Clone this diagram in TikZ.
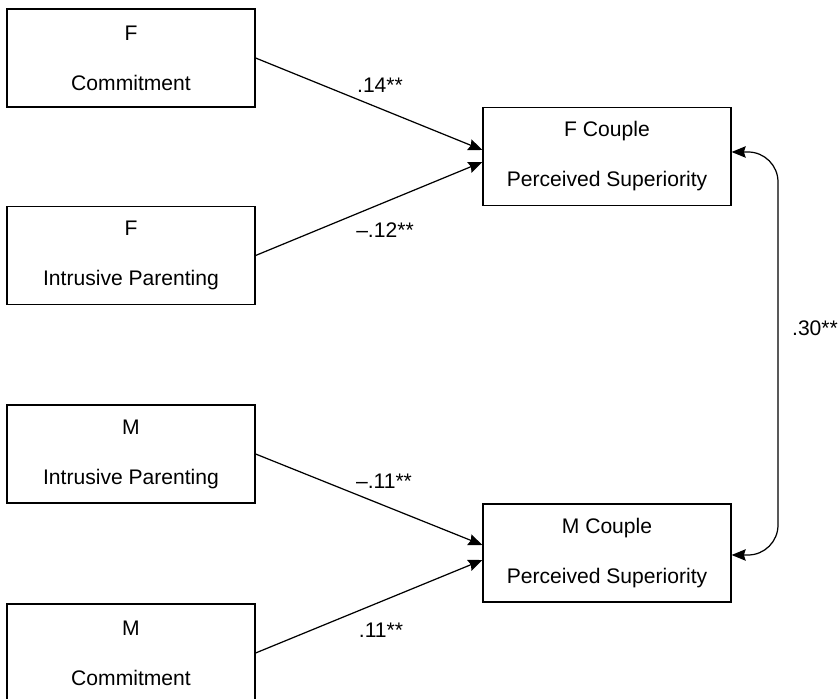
\documentclass[tikz,border=0pt]{standalone}
\usepackage{fontspec}
\setmainfont{Liberation Sans}
\usetikzlibrary{arrows.meta}

\begin{document}
\begin{tikzpicture}[
    var/.style={rectangle, draw, line width=0.7pt, minimum width=4.96cm, minimum height=1.96cm,
        align=center, font=\fontsize{12}{28.5}\selectfont},
    coef/.style={font=\fontsize{12}{14}\selectfont},
    >={Stealth[length=8pt,width=6.5pt,inset=1pt]}
]
\useasboundingbox (0,0) rectangle (16.76,-13.98);

% Predittori
\node[var] (FComm) at (2.62,-1.16) {F\\Commitment};
\node[var] (FPar) at (2.62,-5.11) {F\\Intrusive Parenting};
\node[var] (MPar) at (2.62,-9.08) {M\\Intrusive Parenting};
\node[var] (MComm) at (2.62,-13.06) {M\\Commitment};

% Esiti
\node[var] (FCouple) at (12.14,-3.13) {F Couple\\Perceived Superiority};
\node[var] (MCouple) at (12.14,-11.06) {M Couple\\Perceived Superiority};

\draw[->, line width=0.7pt] (FComm.east) -- ([yshift=0.13cm]FCouple.west);
\draw[->, line width=0.7pt] (FPar.east) -- ([yshift=-0.11cm]FCouple.west);
\draw[->, line width=0.7pt] (MPar.east) -- ([yshift=0.16cm]MCouple.west);
\draw[->, line width=0.7pt] (MComm.east) -- ([yshift=-0.14cm]MCouple.west);

\node[coef] (c1) at (7.6,-1.70) {.14**};
\node[coef] (c2) at (7.7,-4.60) {–.12**};
\node[coef] (c3) at (7.68,-9.62) {–.11**};
\node[coef] (c4) at (7.62,-12.60) {.11**};

% Correlazione
\coordinate (top) at (15.56,-3.04);
\coordinate (bot) at (15.56,-11.1);
\draw[<->, line width=0.7pt, rounded corners=0.6cm] ([yshift=0.09cm]FCouple.east) -- (top) -- (bot) -- ([yshift=-0.04cm]MCouple.east);
\node[coef] (c5) at (16.3,-6.56) {.30**};
\end{tikzpicture}
\end{document}
